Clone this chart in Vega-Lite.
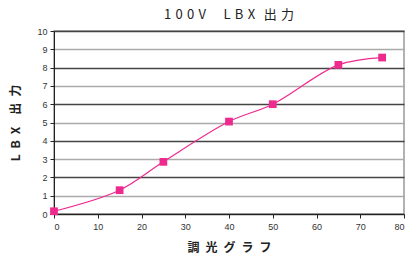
{
  "$schema": "https://vega.github.io/schema/vega-lite/v6.json",
  "autosize": "none",
  "width": 350,
  "height": 183,
  "padding": {"left": 54, "top": 31, "right": 13, "bottom": 50},
  "background": "white",
  "title": {
    "text": "1\u20040\u20040\u2004V\u2003\u2004L\u2004B\u2004X\u2004\u2004出\u2004力",
    "font": "Noto Sans CJK JP",
    "fontSize": 13,
    "fontWeight": "normal",
    "color": "#222",
    "anchor": "middle",
    "offset": 5
  },
  "data": {
    "values": [
      {"x": 0, "y": 0.15},
      {"x": 15, "y": 1.3},
      {"x": 25, "y": 2.85},
      {"x": 40, "y": 5.05},
      {"x": 50, "y": 6.0},
      {"x": 65, "y": 8.15},
      {"x": 75, "y": 8.55}
    ]
  },
  "config": {
    "view": {"stroke": "#999", "strokeWidth": 1.5},
    "axis": {
      "labelFont": "Liberation Sans",
      "labelFontSize": 9,
      "labelColor": "#333",
      "titleFont": "Noto Sans CJK JP",
      "titleFontSize": 12,
      "titleFontWeight": "bold",
      "titleColor": "#222",
      "domainColor": "#222",
      "tickColor": "#222",
      "tickSize": 4
    }
  },
  "layer": [
    {
      "mark": {"type": "line", "interpolate": "catmull-rom", "color": "#ee2a8e", "strokeWidth": 1.2}
    },
    {
      "mark": {"type": "square", "filled": true, "color": "#ee2a8e", "size": 60, "opacity": 1}
    }
  ],
  "encoding": {
    "x": {
      "field": "x",
      "type": "quantitative",
      "scale": {"domain": [0, 80], "nice": false},
      "axis": {
        "values": [0, 10, 20, 30, 40, 50, 60, 70, 80],
        "grid": false,
        "title": "調\u2002光\u2002グ\u2002ラ\u2002フ",
        "titlePadding": 11,
        "labelPadding": 4
      }
    },
    "y": {
      "field": "y",
      "type": "quantitative",
      "scale": {"domain": [0, 10], "nice": false},
      "axis": {
        "values": [0, 1, 2, 3, 4, 5, 6, 7, 8, 9, 10],
        "grid": true,
        "gridColor": {"condition": {"test": "datum.value % 2 === 0", "value": "#444"}, "value": "#aaa"},
        "gridWidth": 1.3,
        "title": "L\u2002B\u2002X\u2002\u2002出\u2002力",
        "titlePadding": 14,
        "labelPadding": 3
      }
    }
  }
}
